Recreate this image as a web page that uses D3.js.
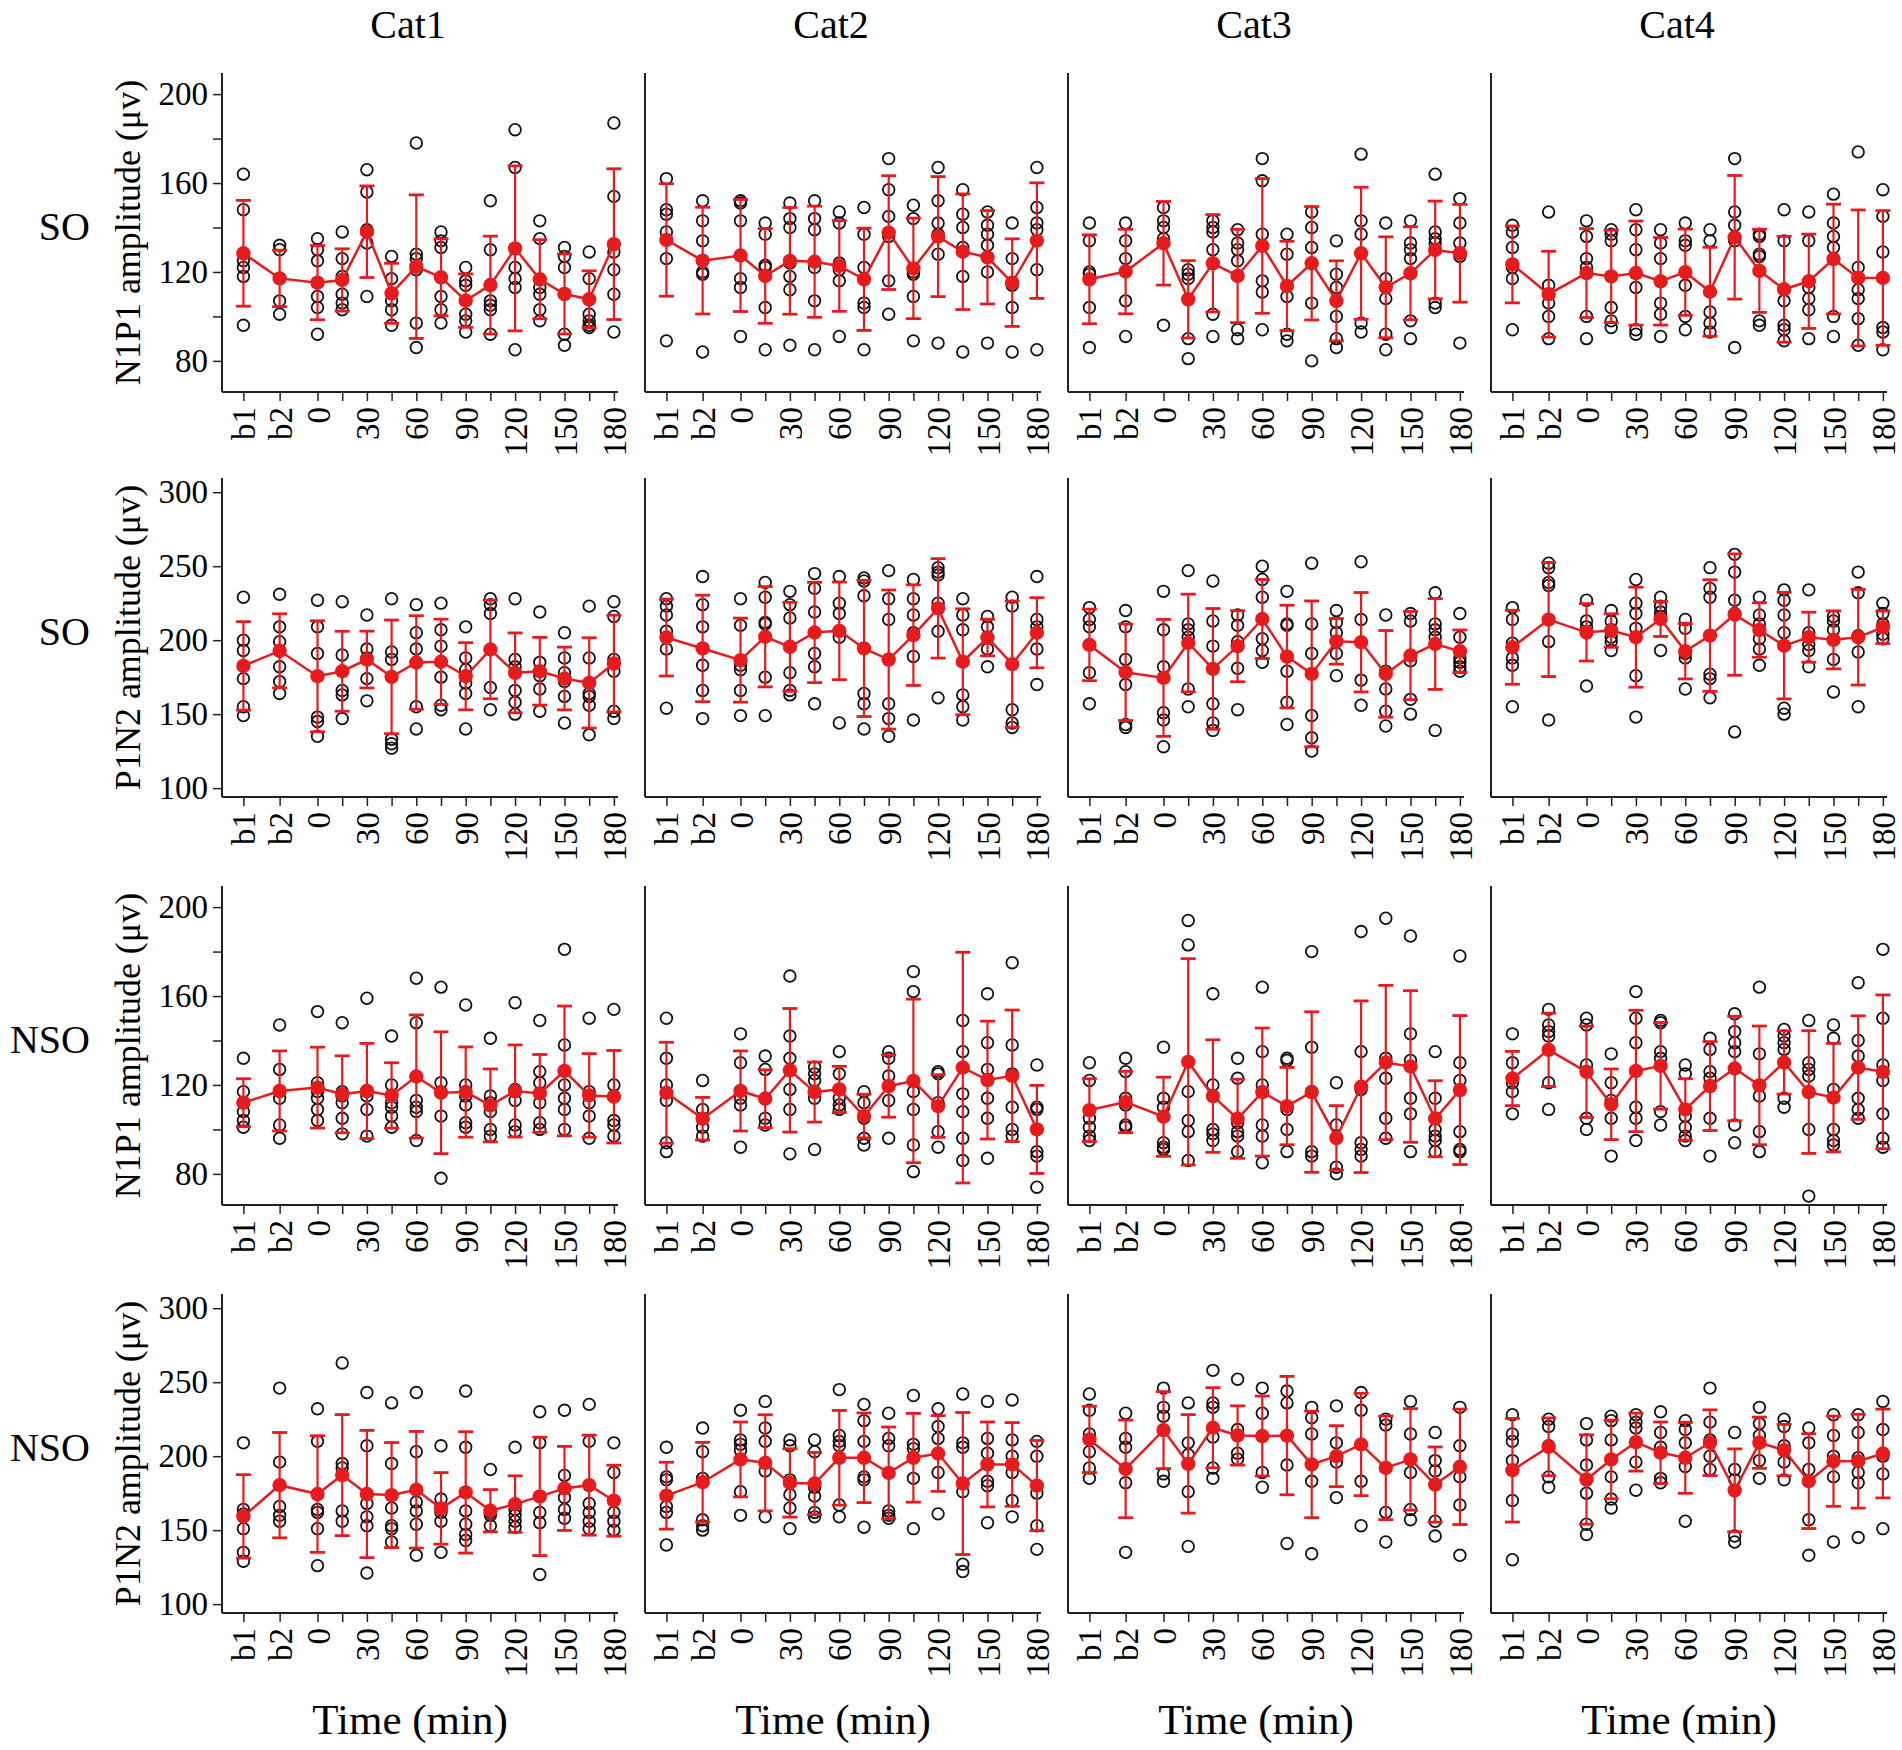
<!DOCTYPE html>
<html>
<head>
<meta charset="utf-8">
<script src="https://cdn.jsdelivr.net/npm/d3@7"></script>
<style>
  body { margin: 0; background: #fff; }
  svg text { font-family: "Liberation Serif", "Times New Roman", serif; fill: #000; }
</style>
</head>
<body>
<div class="container"></div>
<script>
// x categories and where they sit on the time axis (b1/b2 are baselines)
var timeLabels = ["b1","b2","0","15","30","45","60","75","90","105","120","135","150","165","180"];
var timePos = [-45,-23,0,15,30,45,60,75,90,105,120,135,150,165,180];
var shownLabels = ["b1","b2","0","30","60","90","120","150","180"];

var cats = ["Cat1","Cat2","Cat3","Cat4"];
var groups = ["SO","SO","NSO","NSO"];
var measures = ["N1P1 amplitude (\u03bcv)","P1N2 amplitude (\u03bcv)","N1P1 amplitude (\u03bcv)","P1N2 amplitude (\u03bcv)"];
var n1p1Ticks = [80,100,120,140,160,180,200];
var n1p1Labels = [80,120,160,200];
var p1n2Ticks = [100,150,200,250,300];

// ---- SO, N1P1 ----
var soN1P1_cat1_mean = [128.4,117.1,115.2,116.4,138.1,110.4,122.4,117.6,107.1,114.1,130.6,116.7,110.1,107.7,132.5];
var soN1P1_cat1_sd = [23.8,12.7,16.7,14,20.6,13.5,32.3,17.3,12,22,37.1,17.8,18,12.8,33.9];
var soN1P1_cat1_pts = [[164,148,125,122,118,96],[132,130,117,107,101],[135,130,125,109,104,92],[138,126,118,110,106,103],[166,156,139,133,109],[127,117,107,103,96],[178,128,126,121,97,86],[138,134,131,109,103,97],[122,116,114,101,98,93],[152,130,107,105,103,92],[184,167,122,117,113,85],[143,135,113,110,103,98],[131,127,122,110,92,87],[129,117,101,98,96,95],[187,154,129,121,110,93]];

var soN1P1_cat2_mean = [134.4,125.1,127.4,118.2,125,124.6,122.7,116.7,137.7,121.6,135.9,129.1,126.6,115.2,134.1];
var soN1P1_cat2_sd = [25.3,24,25.2,21.3,24,25,20.4,23,25.6,22.6,27,26,21,19.7,26];
var soN1P1_cat2_pts = [[162,148,146,138,126,89],[152,143,134,120,119,84],[152,151,143,117,113,91],[142,137,123,122,104,85],[151,144,140,124,118,112,87],[152,144,139,122,107,85],[147,142,124,121,116,91],[149,137,122,106,104,85],[171,157,145,136,116,101],[150,144,120,119,109,89],[167,152,142,137,128,88],[157,146,140,131,118,84],[147,141,137,132,120,88],[142,126,115,114,104,84],[167,149,142,139,121,85]];

var soN1P1_cat3_mean = [116.7,120.2,132.9,107.7,123.9,118.2,131.7,113.7,123.9,107,128.4,113.1,119.4,129.9,128.4];
var soN1P1_cat3_sd = [20,19,18.8,17.4,21.9,21,30.3,20.1,25.5,18,29.7,22.7,20.9,22,22];
var soN1P1_cat3_pts = [[142,134,120,119,104,86],[142,134,126,107,91],[149,143,140,135,96],[121,119,117,90,81],[143,140,138,130,101,91],[139,133,130,125,94,90],[171,161,137,116,111,94],[137,128,109,92,89],[147,140,131,106,80],[134,119,113,100,90,86],[173,143,137,97,93],[142,117,108,92,85],[143,133,130,126,98,90],[164,138,135,133,106,104],[153,142,133,127,88]];

var soN1P1_cat4_mean = [123.4,110,119.5,118,119.5,115.8,119.9,111.1,135.6,120.5,112.2,115.8,125.8,117.3,117.3];
var soN1P1_cat4_sd = [17.3,19.3,20,20.8,23.4,19.7,19.4,20,27.8,18.7,23.8,21.2,24.7,30.6,30.3];
var soN1P1_cat4_pts = [[141,138,131,122,117,94],[147,114,110,106,100,90],[143,136,126,122,100,90],[139,137,134,104,98,95],[148,139,130,113,94,92],[139,133,126,106,101,91],[142,134,132,114,100,94],[139,134,102,97,93],[171,147,141,134,86],[137,136,128,127,98,96],[148,134,107,96,94,89],[147,134,113,108,103,90],[155,142,136,131,100,91],[174,122,112,108,99,87],[157,145,129,95,93,85]];

// ---- SO, P1N2 ----
var soP1N2_cat1_mean = [182.6,192.8,175.6,179,186.9,175.2,184.9,185.4,175.6,193.7,177.9,179,174.1,171.1,184.2];
var soP1N2_cat1_sd = [29.9,25,37.5,27,19.2,38.4,31.6,28.8,22.7,33.3,27,22.9,21.2,30.5,32.7];
var soP1N2_cat1_pts = [[229,200,193,174,155,149],[231,209,199,182,172,164],[227,209,191,148,145,135],[226,190,166,163,147],[217,194,188,174,159],[228,192,187,133,130,127],[224,205,194,155,140],[225,207,196,175,156,153],[209,188,180,171,164,140],[228,224,218,168,153],[228,187,182,166,158,150],[219,185,176,167,152],[205,188,178,172,162,144],[223,188,164,162,156,136],[226,216,187,179,152,147]];

var soP1N2_cat2_mean = [201.8,194.4,186.5,202.3,195.5,205.2,206.3,194.4,186.9,203.4,221.5,185.4,201.8,183.8,205];
var soP1N2_cat2_sd = [26,36,28.4,33.9,30.1,33.9,33,46,47,34,33.6,35.8,12.4,42.6,23.7];
var soP1N2_cat2_pts = [[228,223,217,206,194,154],[243,224,209,183,166,147],[228,210,183,180,166,149],[239,229,212,211,175,149],[233,224,215,178,166,163],[245,235,219,191,182,157],[243,225,218,202,144],[242,240,230,164,157,140],[247,228,214,157,147,135],[241,228,217,205,189,146],[249,246,244,225,206,161],[228,217,207,163,155,146],[216,209,202,194,182],[229,223,153,144,141],[243,214,209,194,170]];

var soP1N2_cat3_mean = [196.8,178.3,174.5,198.1,180.6,195.9,214.3,188.9,177.2,199.2,198.6,177.2,189.6,197.4,192.5];
var soP1N2_cat3_sd = [24.2,32.6,39.5,33,40.8,24,26.7,34.7,49.3,15.4,33.6,29.3,29.8,30.7,14.4];
var soP1N2_cat3_pts = [[222,214,209,178,157],[220,209,187,170,143,141],[233,207,182,151,146,128],[247,211,207,202,167,155],[240,213,196,157,144,139],[217,210,199,181,153],[250,241,229,201,193,185],[233,211,210,179,158,143],[252,211,191,149,134,125],[220,212,205,199,191,176],[253,214,173,156],[217,179,167,152,142],[218,213,186,160,150],[232,211,207,202,139],[218,202,188,185,182,179]];

var soP1N2_cat4_mean = [195.2,213.9,205.3,206.5,202,214.3,192.5,203.1,217.3,206.9,196.3,202,200.2,202,208.7];
var soP1N2_cat4_sd = [25,38.5,19.4,11.3,33.8,11.8,18.7,37.7,41,18.4,36,16.9,19.6,32.3,11];
var soP1N2_cat4_pts = [[222,214,198,188,183,155],[252,249,239,237,199,146],[227,213,209,205,169],[220,213,207,202,199,193],[241,225,218,208,176,148],[229,223,219,216,193],[214,208,191,188,167],[249,235,229,177,174,161],[258,246,227,218,138],[229,217,211,201,194,183],[234,227,217,205,154,150],[234,205,197,193,182],[216,213,207,187,165],[246,232,203,192,155],[225,218,211,204,201]];

// ---- NSO, N1P1 ----
var nsoN1P1_cat1_mean = [112,117.3,118.8,115.8,117.3,115.3,123.8,116.5,116.8,110.8,117.3,116.2,126.3,115.3,114.7];
var nsoN1P1_cat1_sd = [10.8,18,18.2,17.3,21.4,14.7,27.7,27.4,20.3,16.4,20.7,17.5,29.2,18.8,20.8];
var nsoN1P1_cat1_pts = [[132,117,112,108,104,101],[147,127,117,114,102,96],[153,121,117,114,109,104],[148,117,115,112,105,98],[159,117,115,109,97],[142,120,112,110,106,101],[168,148,113,110,108,95],[164,121,117,106,78],[156,120,115,111,103,101],[141,115,112,108,100,97],[157,118,117,113,102,99],[149,126,121,112,103,100],[181,138,120,114,109,100],[150,117,112,106,96],[154,120,115,104,102,97]];

var nsoN1P1_cat2_mean = [116.5,104.8,117.3,113.8,126.6,116.8,118,106,119.5,121.8,110.5,127.8,122.2,124.1,100];
var nsoN1P1_cat2_sd = [22.7,9.6,18,13,27.8,13.5,10.4,9.8,14,36.8,14.1,51.9,26.5,29.6,19.8];
var nsoN1P1_cat2_pts = [[150,132,120,113,94,90],[122,109,105,101,97],[143,130,114,111,92],[133,127,114,105,102],[169,142,132,118,109,89],[128,125,122,117,114,91],[135,125,114,111,109],[117,112,105,96,93],[135,132,124,113,96],[171,162,117,109,93,81],[126,125,112,99,92],[149,135,116,108,96,86],[161,139,127,114,105,87],[175,138,125,110,100,97],[129,110,109,90,88,74]];

var nsoN1P1_cat3_mean = [108.7,112.3,105.7,130.4,115,104.8,116.8,110.5,116.8,96.2,119.2,130.1,128.3,104.8,117.7];
var nsoN1P1_cat3_sd = [14.1,13.8,17.8,46.4,25.3,17.8,28.8,17.4,36.1,14.5,38.6,34.7,34.1,17.1,33.5];
var nsoN1P1_cat3_pts = [[130,122,105,101,97,95],[132,126,114,111,102,101],[137,114,110,94,92,91],[194,183,117,104,99,86],[161,120,100,98,95],[132,123,103,99,97,90],[164,135,120,102,97,85],[132,131,109,100,90],[180,137,117,90,88],[121,102,96,83,80],[189,135,118,94,91,88],[195,132,123,105,96],[187,143,131,114,107,90],[135,114,105,100,97,95,90],[178,130,122,99,91,90]];

var nsoN1P1_cat4_mean = [122.9,135.8,125.9,111.3,126.3,128.6,109,119.5,127.4,119.8,130.1,116.8,114.3,127.8,125.9];
var nsoN1P1_cat4_sd = [12.2,16.5,20.5,15.9,27.3,19.5,13.8,20,23.5,26.7,14.2,27.6,24.4,23.3,34.6];
var nsoN1P1_cat4_pts = [[143,130,121,117,107],[154,147,144,142,121,109],[150,147,129,126,105,100],[134,121,113,105,88],[162,150,139,110,105,95],[149,148,135,132,108,102],[129,125,106,101,97,95],[141,136,126,123,105,88],[152,144,139,135,102,94],[164,134,115,99,90],[145,142,139,136,114,110],[149,130,127,124,100,70],[147,141,118,100,95,93],[166,140,133,114,109,105],[181,150,129,122,107,96,92]];

// ---- NSO, P1N2 ----
var nsoP1N2_cat1_mean = [159.3,180.4,174.4,187.2,174.4,173.7,177.3,164.7,175.5,163.1,167.6,172.8,178.2,180.4,169.9];
var nsoP1N2_cat1_sd = [28.2,35.6,39.4,40.9,43,35.5,39.4,24.2,41,14.3,19.1,40,28.4,33.8,24];
var nsoP1N2_cat1_pts = [[209,164,161,151,135,129],[246,196,166,160,156],[232,210,164,162,151,126],[263,195,192,163,156],[243,207,168,159,153,121],[236,195,165,153,151,142],[243,203,169,163,154,133],[207,171,162,156,135],[244,206,163,154,147,143],[191,162,160,153],[206,164,160,156,152],[230,209,162,155,120],[231,187,172,164,158],[235,210,168,162,156,151],[209,189,162,156,150]];

var nsoP1N2_cat2_mean = [173.3,182.4,197.8,195.5,181.9,181.5,198.9,198.9,188.7,198.9,201.8,181.5,194.4,194.4,180.1];
var nsoP1N2_cat2_sd = [22.6,26.9,25.3,32.5,23.1,21,32,30.3,31,30,25.6,48,28.7,28.3,30.5];
var nsoP1N2_cat2_pts = [[206,186,184,166,162,140],[219,203,185,157,153,150],[231,211,208,204,176,160],[237,219,210,190,159],[211,207,184,174,165,151],[211,203,179,173,162,159],[245,214,210,207,167,159],[235,224,210,186,184,152],[229,212,207,163,160,158],[241,208,205,185,151],[232,220,212,189,161],[242,209,206,176,127,122],[237,212,202,183,180,155],[238,211,200,189,170,159],[210,200,175,153,137]];

var nsoP1N2_cat3_mean = [211.3,191.4,217.6,194.8,219.2,214,213.6,213.9,194.4,200,207.9,192.1,197.8,180.8,192.8];
var nsoP1N2_cat3_sd = [22.4,33,26,33.3,27.1,20,27,40,36,20.6,34.6,35,34.3,25.4,39];
var nsoP1N2_cat3_pts = [[242,231,215,203,192,185],[229,212,206,182,135],[246,233,227,188,183],[236,209,201,176,139],[258,236,233,213,192,185],[252,218,202,198],[246,229,189,179],[244,236,194,141],[233,226,215,183,134],[234,209,196,172],[243,231,183,153],[225,221,162,142],[237,215,189,164,157],[216,197,190,156,146],[233,207,186,167,133]];

var nsoP1N2_cat4_mean = [190.5,206.3,184.2,197.8,209.5,202.3,198.9,209.1,176.9,209.1,204.1,183.1,196.6,196.6,201.8];
var nsoP1N2_cat4_sd = [35,19.5,30.2,26.6,19.6,20.8,24,22.2,28,17.3,17.4,32,30.5,31.7,30];
var nsoP1N2_cat4_pts = [[228,215,210,197,170,130],[225,220,207,186,179],[222,211,194,175,154,147],[227,224,211,186,171,165],[228,223,219,196,177],[230,216,206,185,182],[224,218,209,193,156],[246,223,211,200,191],[216,191,184,146,142],[233,222,214,197,185],[225,220,207,196,184],[219,209,191,157,133],[228,214,200,186,142],[228,216,199,189,182,145],[237,218,200,188,151]];

var rows = [
  { means: [soN1P1_cat1_mean, soN1P1_cat2_mean, soN1P1_cat3_mean, soN1P1_cat4_mean],
    sds:   [soN1P1_cat1_sd, soN1P1_cat2_sd, soN1P1_cat3_sd, soN1P1_cat4_sd],
    pts:   [soN1P1_cat1_pts, soN1P1_cat2_pts, soN1P1_cat3_pts, soN1P1_cat4_pts],
    domain: [66, 209.5], ticks: n1p1Ticks, labels: n1p1Labels },
  { means: [soP1N2_cat1_mean, soP1N2_cat2_mean, soP1N2_cat3_mean, soP1N2_cat4_mean],
    sds:   [soP1N2_cat1_sd, soP1N2_cat2_sd, soP1N2_cat3_sd, soP1N2_cat4_sd],
    pts:   [soP1N2_cat1_pts, soP1N2_cat2_pts, soP1N2_cat3_pts, soP1N2_cat4_pts],
    domain: [94, 309.6], ticks: p1n2Ticks, labels: p1n2Ticks },
  { means: [nsoN1P1_cat1_mean, nsoN1P1_cat2_mean, nsoN1P1_cat3_mean, nsoN1P1_cat4_mean],
    sds:   [nsoN1P1_cat1_sd, nsoN1P1_cat2_sd, nsoN1P1_cat3_sd, nsoN1P1_cat4_sd],
    pts:   [nsoN1P1_cat1_pts, nsoN1P1_cat2_pts, nsoN1P1_cat3_pts, nsoN1P1_cat4_pts],
    domain: [66, 209.5], ticks: n1p1Ticks, labels: n1p1Labels },
  { means: [nsoP1N2_cat1_mean, nsoP1N2_cat2_mean, nsoP1N2_cat3_mean, nsoP1N2_cat4_mean],
    sds:   [nsoP1N2_cat1_sd, nsoP1N2_cat2_sd, nsoP1N2_cat3_sd, nsoP1N2_cat4_sd],
    pts:   [nsoP1N2_cat1_pts, nsoP1N2_cat2_pts, nsoP1N2_cat3_pts, nsoP1N2_cat4_pts],
    domain: [94, 309.6], ticks: p1n2Ticks, labels: p1n2Ticks }
];

var w = 1902, h = 1750;
var panelW = 396, panelH = 319;
var colX = [222, 645, 1068, 1491];
var rowBottom = [392, 797, 1205, 1613];
var red = "#e51b1d";
var axisCol = "#222";

var svg = d3.select(".container")
  .append("svg")
  .attr("width", w)
  .attr("height", h);

var x = d3.scaleLinear().domain([-58, 182.5]).range([0, panelW]);

// column titles
svg.selectAll("text.cat")
  .data(cats)
  .enter()
  .append("text")
  .attr("class", "cat")
  .attr("x", function(d, i) { return colX[i] + panelW / 2 - 12; })
  .attr("y", 38)
  .attr("text-anchor", "middle")
  .attr("font-size", "40px")
  .text(function(d) { return d; });

rows.forEach(function(row, r) {
  var top = rowBottom[r] - panelH;
  var y = d3.scaleLinear().domain(row.domain).range([panelH, 0]);

  // group label and y title
  svg.append("text")
    .attr("x", 90)
    .attr("y", top + panelH / 2 + 7)
    .attr("text-anchor", "end")
    .attr("font-size", "40px")
    .text(groups[r]);

  svg.append("text")
    .attr("transform", "translate(140," + (top + panelH / 2) + ")rotate(-90)")
    .attr("text-anchor", "middle")
    .attr("font-size", "36px")
    .text(measures[r]);

  for (var c = 0; c < 4; c++) {
    var g = svg.append("g").attr("transform", "translate(" + colX[c] + "," + top + ")");

    // left axis line (ticks only on the first column)
    if (c === 0) {
      var yAxis = d3.axisLeft(y)
        .tickValues(row.ticks)
        .tickSize(9)
        .tickPadding(5)
        .tickFormat(function(d) { return row.labels.indexOf(d) >= 0 ? d : ""; });
      var ya = g.append("g").call(yAxis);
      ya.select(".domain").attr("d", "M0," + panelH + "V0").attr("stroke", axisCol).attr("stroke-width", 2);
      ya.selectAll(".tick line").attr("stroke", axisCol).attr("stroke-width", 1.5);
      ya.selectAll(".tick text").attr("font-size", "33px").attr("font-family", "Liberation Serif");
    } else {
      g.append("line")
        .attr("x1", 0).attr("x2", 0)
        .attr("y1", 0).attr("y2", panelH)
        .attr("stroke", axisCol).attr("stroke-width", 2);
    }

    // bottom axis
    var xAxis = d3.axisBottom(x)
      .tickValues(timePos)
      .tickSize(9)
      .tickFormat(function(d) {
        var lab = timeLabels[timePos.indexOf(d)];
        return shownLabels.indexOf(lab) >= 0 ? lab : "";
      });
    var xa = g.append("g").attr("transform", "translate(0," + panelH + ")").call(xAxis);
    xa.select(".domain").attr("d", "M0,0H" + panelW).attr("stroke", axisCol).attr("stroke-width", 2);
    xa.selectAll(".tick line").attr("stroke", axisCol).attr("stroke-width", 1.5);
    xa.selectAll(".tick text")
      .attr("font-size", "33px")
      .attr("font-family", "Liberation Serif")
      .attr("transform", "rotate(-90)")
      .attr("text-anchor", "end")
      .attr("x", -15)
      .attr("y", 0)
      .attr("dy", "0.35em");

    // individual values
    var pts = [];
    row.pts[c].forEach(function(list, i) {
      list.forEach(function(v) { pts.push([timePos[i], v]); });
    });
    g.selectAll("circle.pt")
      .data(pts)
      .enter()
      .append("circle")
      .attr("class", "pt")
      .attr("cx", function(d) { return x(d[0]); })
      .attr("cy", function(d) { return y(d[1]); })
      .attr("r", 5.8)
      .attr("fill", "none")
      .attr("stroke", "#111")
      .attr("stroke-width", 1.8);

    // mean +/- SD
    var summary = row.means[c].map(function(m, i) { return [timePos[i], m, row.sds[c][i]]; });

    g.selectAll("line.err")
      .data(summary)
      .enter()
      .append("line")
      .attr("class", "err")
      .attr("x1", function(d) { return x(d[0]); })
      .attr("x2", function(d) { return x(d[0]); })
      .attr("y1", function(d) { return y(d[1] - d[2]); })
      .attr("y2", function(d) { return y(d[1] + d[2]); })
      .attr("stroke", red)
      .attr("stroke-width", 2.2);

    [1, -1].forEach(function(sgn) {
      g.selectAll("line.cap" + (sgn > 0 ? "t" : "b"))
        .data(summary)
        .enter()
        .append("line")
        .attr("x1", function(d) { return x(d[0]) - 7.5; })
        .attr("x2", function(d) { return x(d[0]) + 7.5; })
        .attr("y1", function(d) { return y(d[1] + sgn * d[2]); })
        .attr("y2", function(d) { return y(d[1] + sgn * d[2]); })
        .attr("stroke", red)
        .attr("stroke-width", 2.8);
    });

    g.append("path")
      .datum(summary)
      .attr("fill", "none")
      .attr("stroke", red)
      .attr("stroke-width", 2.5)
      .attr("d", d3.line()
        .x(function(d) { return x(d[0]); })
        .y(function(d) { return y(d[1]); }));

    g.selectAll("circle.mean")
      .data(summary)
      .enter()
      .append("circle")
      .attr("class", "mean")
      .attr("cx", function(d) { return x(d[0]); })
      .attr("cy", function(d) { return y(d[1]); })
      .attr("r", 7.2)
      .attr("fill", red);
  }
});

// x titles
svg.selectAll("text.xt")
  .data(cats)
  .enter()
  .append("text")
  .attr("class", "xt")
  .attr("x", function(d, i) { return colX[i] + panelW / 2 - 10; })
  .attr("y", 1734)
  .attr("text-anchor", "middle")
  .attr("font-size", "43px")
  .text("Time (min)");
</script>
</body>
</html>
